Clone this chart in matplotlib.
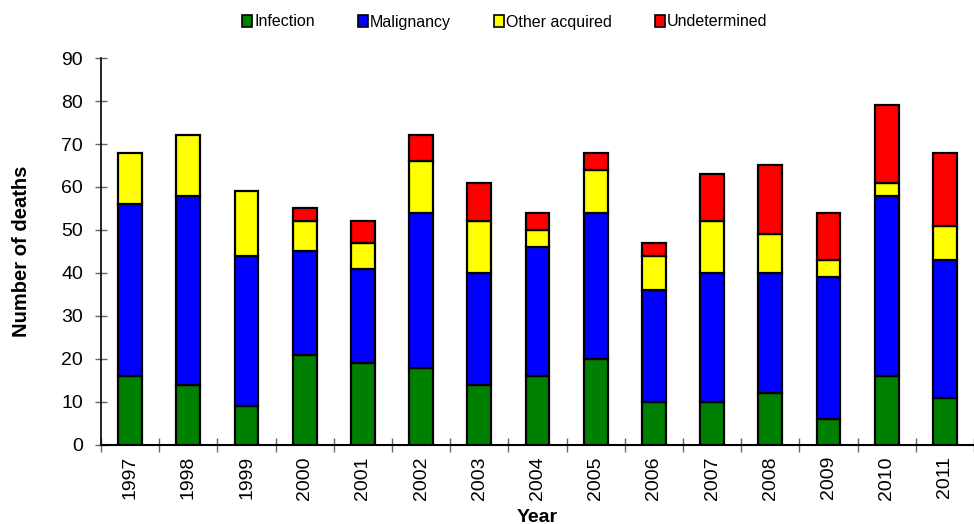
import numpy as np
import matplotlib.pyplot as plt
from matplotlib.patches import Patch

plt.rcParams['font.family'] = ['Liberation Sans', 'DejaVu Sans']

years = ['1997', '1998', '1999', '2000', '2001', '2002', '2003', '2004',
         '2005', '2006', '2007', '2008', '2009', '2010', '2011']
infection = [16, 14, 9, 21, 19, 18, 14, 16, 20, 10, 10, 12, 6, 16, 11]
malignancy = [40, 44, 35, 24, 22, 36, 26, 30, 34, 26, 30, 28, 33, 42, 32]
other_acquired = [12, 14, 15, 7, 6, 12, 12, 4, 10, 8, 12, 9, 4, 3, 8]
undetermined = [0, 0, 0, 3, 5, 6, 9, 4, 4, 3, 11, 16, 11, 18, 17]

series = [("Infection", infection, "#008000"),
          ("Malignancy", malignancy, "#0000ff"),
          ("Other acquired", other_acquired, "#ffff00"),
          ("Undetermined", undetermined, "#ff0000")]

fig = plt.figure(figsize=(9.74, 5.24), dpi=100)
ax = fig.add_axes([0.1037, 0.1508, 0.8963, 0.7385])

x = np.arange(len(years))
bottom = np.zeros(len(years))
handles = []
for name, vals, col in series:
    vals = np.array(vals, dtype=float)
    mask = vals > 0
    ax.bar(x[mask], vals[mask], 0.41, bottom=bottom[mask], color=col,
           edgecolor="black", linewidth=1.6, zorder=3)
    bottom += vals
    handles.append(Patch(facecolor=col, edgecolor="black", linewidth=1.2, label=name))

ax.set_xlim(-0.5, len(years) - 0.5)
ax.set_ylim(0, 90)
ax.set_yticks(np.arange(0, 91, 10))
ax.tick_params(axis="y", direction="inout", length=8, width=1, color="#666666",
               labelsize=14, pad=9)
ax.set_xticks(x)
ax.set_xticklabels(years, rotation=90, fontsize=14)
ax.tick_params(axis="x", length=0, pad=8)
ax.set_xticks(np.arange(-0.5, len(years), 1), minor=True)
ax.tick_params(axis="x", which="minor", direction="inout", length=10, width=1,
               color="#666666")

for s in ["top", "right"]:
    ax.spines[s].set_visible(False)
ax.spines["left"].set_linewidth(1.2)
ax.spines["bottom"].set_linewidth(1.5)

ax.set_ylabel("Number of deaths", fontsize=14.5, fontweight="bold", labelpad=22)
ax.set_xlabel("Year", fontsize=14, fontweight="bold")
ax.xaxis.set_label_coords(0.5, -0.165)

fig.legend(handles=handles, loc="center", bbox_to_anchor=(505 / 974, 1 - 22 / 524),
           ncol=4, frameon=False, fontsize=11.5, handlelength=0.6, handleheight=0.8,
           handletextpad=0.15, columnspacing=2.7)

fig.savefig("out.png", dpi=100)
